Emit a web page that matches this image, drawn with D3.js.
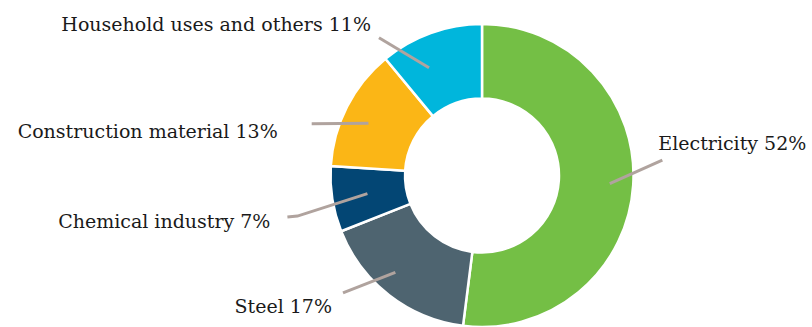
<!DOCTYPE html>
<html>
<head>
<meta charset="utf-8">
<script src="https://cdn.jsdelivr.net/npm/d3@7"></script>
<style>
  body { margin: 0; background: #fff; }
  text { font-family: "DejaVu Serif", serif; fill: #1a1a1a; }
</style>
</head>
<body>
<svg width="812" height="327"></svg>
<script>
// data
const categories = ["Electricity", "Steel", "Chemical industry", "Construction material", "Household uses and others"];
const shares = [52, 17, 7, 13, 11];
const colors = ["#74bf45", "#4e6470", "#034674", "#fbb616", "#00b6dc"];

// label placement: leader start (shift from centroid, radius), leader end, text offset
const labelLayout = [
  { shift: 0, r0: 128, angle: 85.1, r: 181, hook: 0, anchor: "start", dx: -4, dy: -10 },
  { shift: 4, r0: 130, angle: 229.8, r: 182, hook: 0, anchor: "end", dx: -11, dy: 20 },
  { shift: 0, r0: 116, angle: 257.6, r: 189, hook: -10, anchor: "end", dx: -17, dy: 11 },
  { shift: -2.3, r0: 125, angle: 286.9, r: 178, hook: 0, anchor: "end", dx: -34, dy: 14 },
  { shift: -6.4, r0: 120, angle: 323.2, r: 172, hook: 0, anchor: "end", dx: -8, dy: -7 }
];

let svg = d3.select("svg"),
  cx = 482,
  cy = 175.5,
  outerR = 151.5,
  innerR = 77;

const pie = d3.pie().sort(null).value((d) => d.value);
const arcs = pie(categories.map((c, i) => ({ name: c, value: shares[i] })));

const arc = d3.arc().innerRadius(innerR).outerRadius(outerR);

let g = svg.append("g").attr("transform", `translate(${cx},${cy})`);

// slices
g.selectAll("path.slice")
  .data(arcs)
  .enter()
  .append("path")
  .attr("class", "slice")
  .attr("d", arc)
  .attr("fill", (d, i) => colors[i])
  .attr("stroke", "#fff")
  .attr("stroke-width", 2.5);

// point helper, angle from top clockwise
function pt(angle, r) {
  return [r * Math.sin(angle), -r * Math.cos(angle)];
}

const rad = Math.PI / 180;

// leader lines + labels
arcs.forEach((d, i) => {
  const lay = labelLayout[i];
  const mid = (d.startAngle + d.endAngle) / 2 + lay.shift * rad;
  const p0 = pt(mid, lay.r0);
  const p1 = pt(lay.angle * rad, lay.r);
  const pts = [p0, p1];
  if (lay.hook) pts.push([p1[0] + lay.hook, p1[1] + 1]);
  const last = pts[pts.length - 1];

  g.append("path")
    .attr("d", d3.line()(pts))
    .attr("fill", "none")
    .attr("stroke", "#b0a39e")
    .attr("stroke-width", 3);

  g.append("text")
    .attr("x", last[0] + lay.dx)
    .attr("y", last[1] + lay.dy)
    .attr("text-anchor", lay.anchor)
    .style("font-size", "19px")
    .text(d.data.name + " " + d.data.value + "%");
});
</script>
</body>
</html>
